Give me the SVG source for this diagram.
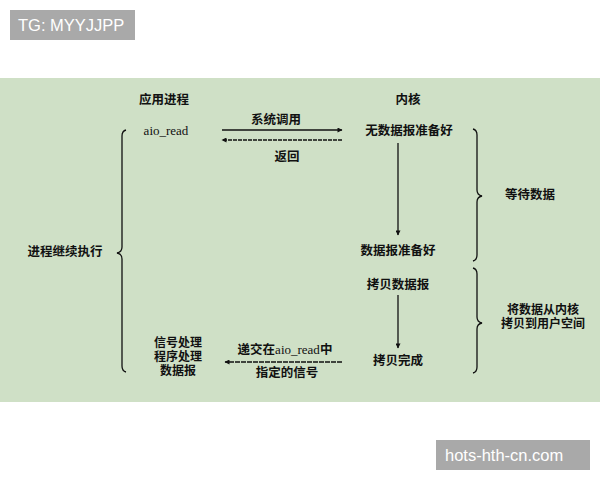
<svg xmlns="http://www.w3.org/2000/svg" width="600" height="480" viewBox="0 0 600 480">
<defs>
<marker id="ah" viewBox="0 0 10 10" refX="9" refY="5" markerWidth="7" markerHeight="5" orient="auto" markerUnits="userSpaceOnUse">
<path d="M0,0 L10,5 L0,10 z" fill="#111"/>
</marker>
<style>
.t{font-family:"Noto Sans CJK SC","Liberation Sans",sans-serif;font-size:12.5px;font-weight:bold;fill:#111;text-anchor:middle}
.m{font-size:12px}
.s{font-family:"Liberation Serif","Noto Sans CJK SC",serif;font-size:13px;fill:#111;text-anchor:middle}
.ss{font-family:"Liberation Serif",serif;font-weight:normal;font-size:13px}
.ln{stroke:#111;stroke-width:1.3;fill:none}
.br{stroke:#111;stroke-width:1.3;fill:none}
.wm{font-family:"Liberation Sans",sans-serif;font-size:16.5px;fill:#fff}
</style>
</defs>
<rect x="0" y="0" width="600" height="480" fill="#fff"/>
<rect x="0" y="78" width="600" height="324" fill="#cfe0c6"/>
<g id="tg"><rect x="10" y="10" width="125" height="30" fill="#a9a9a9"/><text class="wm" x="18" y="31">TG: MYYJJPP</text></g>
<g id="site"><rect x="436" y="440" width="154" height="30" fill="#a9a9a9"/><text class="wm" x="445" y="461">hots-hth-cn.com</text></g>
<g id="hdr-app"><text class="t" x="164" y="104">应用进程</text></g>
<g id="hdr-kernel"><text class="t" x="408" y="104">内核</text></g>
<g id="aio"><text class="s" x="166" y="135">aio_read</text></g>
<g id="nodata"><text class="t" x="409" y="135">无数据报准备好</text></g>
<g id="ready"><text class="t" x="398" y="255">数据报准备好</text></g>
<g id="copy"><text class="t" x="398" y="289">拷贝数据报</text></g>
<g id="done"><text class="t" x="398" y="365">拷贝完成</text></g>
<g id="wait"><text class="t" x="530" y="199">等待数据</text></g>
<g id="copy-lbl"><text class="t m" x="543" y="314">将数据从内核</text><text class="t m" x="543" y="328">拷贝到用户空间</text></g>
<g id="continue"><text class="t" x="65" y="256">进程继续执行</text></g>
<g id="sig"><text class="t m" x="178" y="347">信号处理</text><text class="t m" x="178" y="361">程序处理</text><text class="t m" x="178" y="375">数据报</text></g>
<g id="connectors">
<line class="ln" x1="222" y1="130" x2="342" y2="130" marker-end="url(#ah)"/>
<text class="t" x="276" y="124">系统调用</text>
<line class="ln" x1="342" y1="140" x2="222" y2="140" stroke-dasharray="4,1" marker-end="url(#ah)"/>
<text class="t" x="287" y="161">返回</text>
<line class="ln" x1="398" y1="143" x2="398" y2="235" marker-end="url(#ah)"/>
<line class="ln" x1="398" y1="295" x2="398" y2="348" marker-end="url(#ah)"/>
<line class="ln" x1="342" y1="362" x2="225" y2="362" stroke-dasharray="5,1" marker-end="url(#ah)"/>
<text class="t" x="285" y="354">递交在<tspan class="ss">aio_read</tspan>中</text>
<text class="t" x="287" y="377">指定的信号</text>
<path class="br" d="M473,129 Q477,130 477,135 L477,190 Q477,195 482,196 Q477,197 477,202 L477,255 Q477,260 473,261"/>
<path class="br" d="M473,268 Q477,269 477,274 L477,317 Q477,322 482,323 Q477,324 477,329 L477,367 Q477,372 473,373"/>
<path class="br" d="M126,130 Q122,131 122,136 L122,247 Q122,252 117,253 Q122,254 122,259 L122,366 Q122,371 126,372"/>
</g>
</svg>
